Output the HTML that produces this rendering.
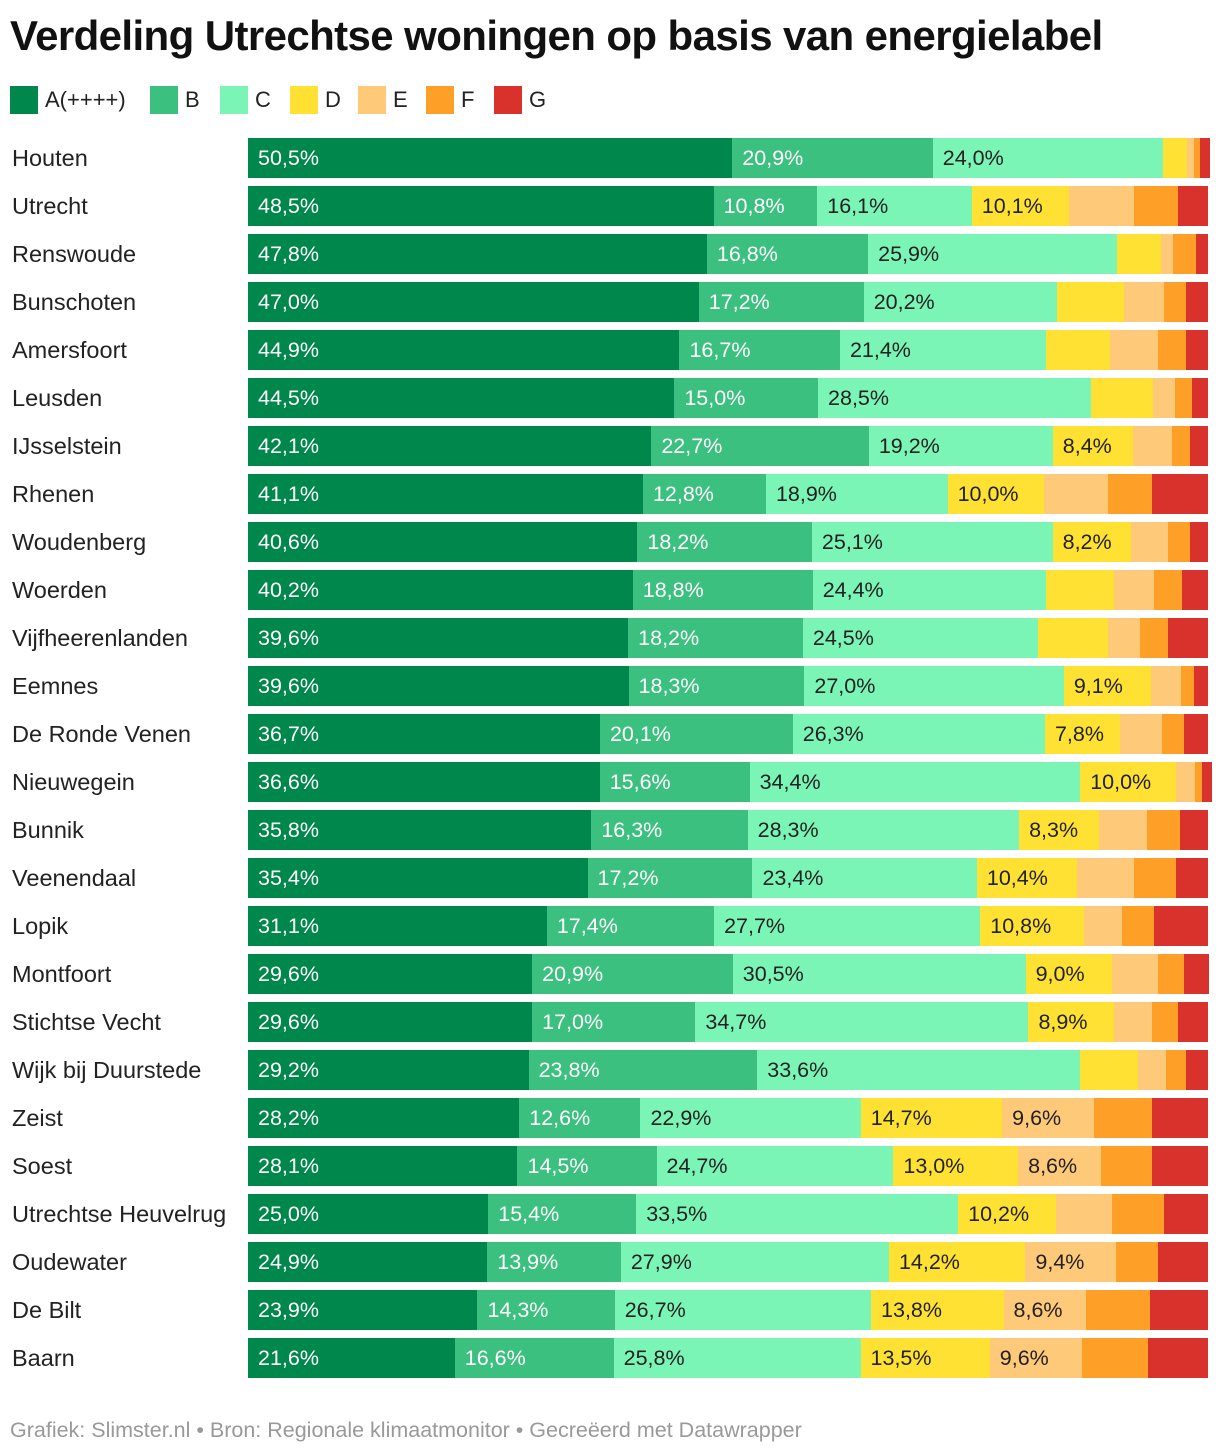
<!DOCTYPE html>
<html><head><meta charset="utf-8">
<style>
body{margin:0;width:1220px;height:1456px;background:#fff;font-family:"Liberation Sans",sans-serif;position:relative;overflow:hidden;color:#222}
h1{position:absolute;left:10px;top:12px;margin:0;font-size:42px;font-weight:bold;color:#111;letter-spacing:-0.6px;white-space:nowrap}
.leg{position:absolute;top:85px;height:30px;display:flex;align-items:center;font-size:22px;color:#222}
.leg span.sw{width:28px;height:28px;display:inline-block;margin-right:7px}
.rl{position:absolute;left:12px;font-size:23.5px;color:#222;line-height:40px;white-space:nowrap}
.seg{position:absolute;height:40px;line-height:40px;font-size:21.5px;box-sizing:border-box;padding-left:10px;white-space:nowrap;overflow:hidden}
#foot{position:absolute;left:10px;top:1418px;font-size:21.5px;color:#999;white-space:nowrap}
</style></head><body>
<h1>Verdeling Utrechtse woningen op basis van energielabel</h1>
<div id="legend"></div>
<div id="chart"></div>
<div id="foot">Grafiek: Slimster.nl • Bron: Regionale klimaatmonitor • Gecreëerd met Datawrapper</div>
<script>
const labels=["A(++++)","B","C","D","E","F","G"];
const colors=["#00874b","#3cc080","#7af5b5","#fee132","#fec979","#fe9f27","#d9322d"];
const textColors=["#fff","#fff","#222","#222","#222","#222","#fff"];
const gemeenten=["Houten","Utrecht","Renswoude","Bunschoten","Amersfoort","Leusden","IJsselstein","Rhenen","Woudenberg","Woerden","Vijfheerenlanden","Eemnes","De Ronde Venen","Nieuwegein","Bunnik","Veenendaal","Lopik","Montfoort","Stichtse Vecht","Wijk bij Duurstede","Zeist","Soest","Utrechtse Heuvelrug","Oudewater","De Bilt","Baarn"];
const A=[50.5,48.5,47.8,47.0,44.9,44.5,42.1,41.1,40.6,40.2,39.6,39.6,36.7,36.6,35.8,35.4,31.1,29.6,29.6,29.2,28.2,28.1,25.0,24.9,23.9,21.6];
const B=[20.9,10.8,16.8,17.2,16.7,15.0,22.7,12.8,18.2,18.8,18.2,18.3,20.1,15.6,16.3,17.2,17.4,20.9,17.0,23.8,12.6,14.5,15.4,13.9,14.3,16.6];
const C=[24.0,16.1,25.9,20.2,21.4,28.5,19.2,18.9,25.1,24.4,24.5,27.0,26.3,34.4,28.3,23.4,27.7,30.5,34.7,33.6,22.9,24.7,33.5,27.9,26.7,25.8];
const D=[2.5,10.1,4.6,6.9,6.7,6.5,8.4,10.0,8.2,7.1,7.3,9.1,7.8,10.0,8.3,10.4,10.8,9.0,8.9,6.0,14.7,13.0,10.2,14.2,13.8,13.5];
const E=[0.7,6.8,1.3,4.2,5.0,2.3,4.0,6.7,3.8,4.2,3.3,3.1,4.4,1.9,5.0,6.0,4.0,4.8,4.0,2.9,9.6,8.6,5.8,9.4,8.6,9.6];
const F=[0.7,4.6,2.3,2.3,2.9,1.7,1.9,4.6,2.3,2.9,2.9,1.3,2.3,0.8,3.5,4.4,3.3,2.7,2.7,2.1,6.0,5.4,5.4,4.4,6.7,6.9];
const G=[0.8,3.1,1.3,2.3,2.3,1.7,1.9,5.8,1.9,2.7,4.2,1.5,2.5,0.6,2.9,3.3,5.6,2.5,3.1,2.3,5.8,5.8,4.6,5.2,6.0,6.3];
const series=[A,B,C,D,E,F,G];
const x0=248,W=960,top0=138,pitch=48;
const legX=[10,150,220,290,358,426,494];
const leg=document.getElementById('legend');
labels.forEach((l,i)=>{
  const d=document.createElement('div');d.className='leg';d.style.left=legX[i]+'px';
  
  
  d.innerHTML='<span class="sw" style="background:'+colors[i]+'"></span>'+l;
  leg.appendChild(d);
});
const ch=document.getElementById('chart');
gemeenten.forEach((g,r)=>{
  const y=top0+r*pitch;
  const t=document.createElement('div');t.className='rl';t.style.top=y+'px';t.textContent=g;
  
  
  ch.appendChild(t);
  const total=series.reduce((s,a)=>s+a[r],0);
  const xs=v=>v/total*W;
  let cum=0;
  series.forEach((s,i)=>{
    const v=s[r];
    const left=x0+xs(cum), w=xs(cum+v)-xs(cum);cum+=v;
    const b=document.createElement('div');b.className='seg';
    b.style.left=left+'px';b.style.top=y+'px';b.style.width=(w+0.5)+'px';
    b.style.background=colors[i];b.style.color=textColors[i];
    if(v>=7.5&&i<6)b.textContent=v.toFixed(1).replace('.',',')+'%';
    
    
    ch.appendChild(b);
  });
});
</script>
</body></html>
